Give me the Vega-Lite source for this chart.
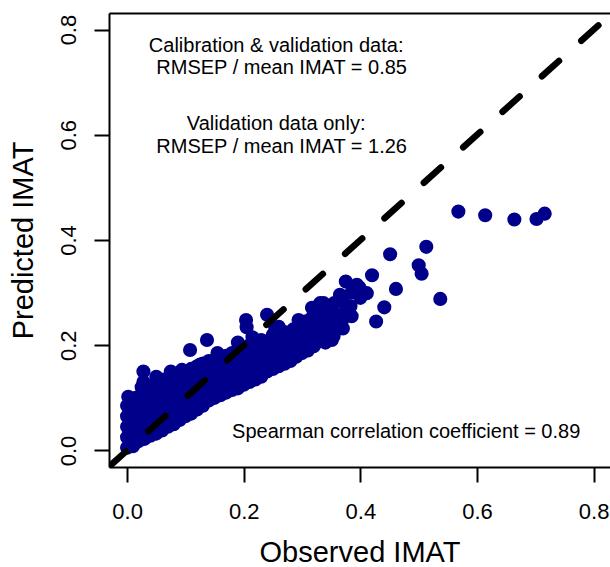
{
  "$schema": "https://vega.github.io/schema/vega-lite/v6.json",
  "width": 501,
  "height": 454,
  "autosize": {"type": "none"},
  "padding": {"left": 109, "top": 13, "right": 0, "bottom": 100},
  "config": {
    "view": {"stroke": null},
    "font": "Liberation Sans",
    "axis": {
      "grid": false,
      "domainColor": "black",
      "domainWidth": 2,
      "tickColor": "black",
      "tickWidth": 2,
      "tickSize": 15,
      "labelColor": "black",
      "labelFontSize": 22,
      "labelFont": "Liberation Sans",
      "titleColor": "black",
      "titleFont": "Liberation Sans",
      "titleFontSize": 29,
      "titleFontWeight": "normal",
      "labelFlush": false,
      "labelOverlap": false
    }
  },
  "datasets": {
    "pts": [
      {"obs":0,"pred":0.005},{"obs":0,"pred":0.025},{"obs":0,"pred":0.045},{"obs":0,"pred":0.065},{"obs":0,"pred":0.085},{"obs":0.002,"pred":0.102},
      {"obs":0.005,"pred":0.012},{"obs":0.005,"pred":0.035},{"obs":0.005,"pred":0.055},{"obs":0.005,"pred":0.075},{"obs":0.005,"pred":0.092},
      {"obs":0.01,"pred":0.008},{"obs":0.01,"pred":0.03},{"obs":0.01,"pred":0.05},{"obs":0.01,"pred":0.07},{"obs":0.01,"pred":0.09},
      {"obs":0.015,"pred":0.015},{"obs":0.015,"pred":0.04},{"obs":0.015,"pred":0.062},{"obs":0.015,"pred":0.085},{"obs":0.015,"pred":0.1},
      {"obs":0.02,"pred":0.018},{"obs":0.02,"pred":0.045},{"obs":0.02,"pred":0.07},{"obs":0.02,"pred":0.095},
      {"obs":0.028,"pred":0.15},{"obs":0.028,"pred":0.13},
      {"obs":0.03,"pred":0.022},{"obs":0.03,"pred":0.05},{"obs":0.03,"pred":0.08},{"obs":0.03,"pred":0.11},
      {"obs":0.04,"pred":0.028},{"obs":0.04,"pred":0.055},{"obs":0.04,"pred":0.085},{"obs":0.04,"pred":0.115},
      {"obs":0.05,"pred":0.032},{"obs":0.05,"pred":0.06},{"obs":0.05,"pred":0.09},{"obs":0.05,"pred":0.12},
      {"obs":0.06,"pred":0.038},{"obs":0.06,"pred":0.07},{"obs":0.06,"pred":0.1},{"obs":0.06,"pred":0.125},
      {"obs":0.07,"pred":0.045},{"obs":0.07,"pred":0.075},{"obs":0.07,"pred":0.105},{"obs":0.07,"pred":0.13},
      {"obs":0.08,"pred":0.05},{"obs":0.08,"pred":0.08},{"obs":0.08,"pred":0.11},{"obs":0.08,"pred":0.135},
      {"obs":0.09,"pred":0.058},{"obs":0.09,"pred":0.09},{"obs":0.09,"pred":0.12},{"obs":0.09,"pred":0.145},
      {"obs":0.094,"pred":0.153},
      {"obs":0.1,"pred":0.065},{"obs":0.1,"pred":0.095},{"obs":0.1,"pred":0.125},{"obs":0.1,"pred":0.15},
      {"obs":0.108,"pred":0.191},
      {"obs":0.11,"pred":0.07},{"obs":0.11,"pred":0.1},{"obs":0.11,"pred":0.13},{"obs":0.11,"pred":0.155},
      {"obs":0.12,"pred":0.078},{"obs":0.12,"pred":0.105},{"obs":0.12,"pred":0.135},{"obs":0.12,"pred":0.16},
      {"obs":0.125,"pred":0.163},
      {"obs":0.13,"pred":0.085},{"obs":0.13,"pred":0.115},{"obs":0.13,"pred":0.14},{"obs":0.13,"pred":0.165},
      {"obs":0.137,"pred":0.21},
      {"obs":0.14,"pred":0.095},{"obs":0.14,"pred":0.12},{"obs":0.14,"pred":0.145},{"obs":0.14,"pred":0.17},
      {"obs":0.15,"pred":0.1},{"obs":0.15,"pred":0.125},{"obs":0.15,"pred":0.15},{"obs":0.15,"pred":0.172},
      {"obs":0.16,"pred":0.105},{"obs":0.16,"pred":0.13},{"obs":0.16,"pred":0.155},{"obs":0.16,"pred":0.175},
      {"obs":0.17,"pred":0.11},{"obs":0.17,"pred":0.135},{"obs":0.17,"pred":0.16},{"obs":0.17,"pred":0.18},
      {"obs":0.177,"pred":0.179},
      {"obs":0.18,"pred":0.115},{"obs":0.18,"pred":0.14},{"obs":0.18,"pred":0.165},{"obs":0.18,"pred":0.185},
      {"obs":0.19,"pred":0.118},{"obs":0.19,"pred":0.145},{"obs":0.19,"pred":0.17},{"obs":0.19,"pred":0.19},
      {"obs":0.2,"pred":0.125},{"obs":0.2,"pred":0.15},{"obs":0.2,"pred":0.175},{"obs":0.2,"pred":0.195},
      {"obs":0.204,"pred":0.248},{"obs":0.205,"pred":0.234},
      {"obs":0.21,"pred":0.13},{"obs":0.21,"pred":0.155},{"obs":0.21,"pred":0.18},{"obs":0.21,"pred":0.2},
      {"obs":0.22,"pred":0.135},{"obs":0.22,"pred":0.16},{"obs":0.22,"pred":0.185},{"obs":0.22,"pred":0.205},
      {"obs":0.23,"pred":0.14},{"obs":0.23,"pred":0.165},{"obs":0.23,"pred":0.19},{"obs":0.23,"pred":0.21},
      {"obs":0.24,"pred":0.15},{"obs":0.24,"pred":0.172},{"obs":0.24,"pred":0.195},{"obs":0.24,"pred":0.258},
      {"obs":0.25,"pred":0.155},{"obs":0.25,"pred":0.2},{"obs":0.25,"pred":0.22},
      {"obs":0.254,"pred":0.233},
      {"obs":0.26,"pred":0.16},{"obs":0.26,"pred":0.182},{"obs":0.26,"pred":0.205},
      {"obs":0.27,"pred":0.165},{"obs":0.27,"pred":0.19},{"obs":0.27,"pred":0.21},{"obs":0.27,"pred":0.225},
      {"obs":0.274,"pred":0.172},
      {"obs":0.28,"pred":0.17},{"obs":0.28,"pred":0.195},{"obs":0.28,"pred":0.215},
      {"obs":0.29,"pred":0.178},{"obs":0.29,"pred":0.2},{"obs":0.29,"pred":0.225},{"obs":0.294,"pred":0.248},
      {"obs":0.3,"pred":0.185},{"obs":0.3,"pred":0.205},{"obs":0.3,"pred":0.23},
      {"obs":0.31,"pred":0.19},{"obs":0.31,"pred":0.215},{"obs":0.31,"pred":0.24},{"obs":0.317,"pred":0.271},
      {"obs":0.32,"pred":0.198},{"obs":0.32,"pred":0.22},{"obs":0.32,"pred":0.245},{"obs":0.32,"pred":0.258},
      {"obs":0.331,"pred":0.28},{"obs":0.337,"pred":0.28},
      {"obs":0.34,"pred":0.205},{"obs":0.34,"pred":0.23},{"obs":0.34,"pred":0.25},
      {"obs":0.351,"pred":0.21},{"obs":0.351,"pred":0.267},{"obs":0.354,"pred":0.217},
      {"obs":0.36,"pred":0.24},{"obs":0.365,"pred":0.296},{"obs":0.368,"pred":0.245},
      {"obs":0.375,"pred":0.321},{"obs":0.383,"pred":0.274},{"obs":0.394,"pred":0.315},{"obs":0.398,"pred":0.31},
      {"obs":0.411,"pred":0.299},{"obs":0.42,"pred":0.333},{"obs":0.427,"pred":0.245},{"obs":0.441,"pred":0.272},
      {"obs":0.451,"pred":0.373},{"obs":0.461,"pred":0.307},{"obs":0.5,"pred":0.352},{"obs":0.505,"pred":0.336},
      {"obs":0.513,"pred":0.387},{"obs":0.537,"pred":0.288},
      {"obs":0.568,"pred":0.454},{"obs":0.614,"pred":0.447},{"obs":0.664,"pred":0.439},{"obs":0.702,"pred":0.44},{"obs":0.716,"pred":0.45},
      {"obs":0.025,"pred":0.03},{"obs":0.025,"pred":0.06},{"obs":0.025,"pred":0.09},{"obs":0.025,"pred":0.12},
      {"obs":0.035,"pred":0.035},{"obs":0.035,"pred":0.065},{"obs":0.035,"pred":0.095},
      {"obs":0.045,"pred":0.04},{"obs":0.045,"pred":0.07},{"obs":0.045,"pred":0.1},{"obs":0.045,"pred":0.125},
      {"obs":0.055,"pred":0.045},{"obs":0.055,"pred":0.08},{"obs":0.055,"pred":0.11},
      {"obs":0.065,"pred":0.05},{"obs":0.065,"pred":0.085},{"obs":0.065,"pred":0.115},{"obs":0.065,"pred":0.135},
      {"obs":0.075,"pred":0.06},{"obs":0.075,"pred":0.09},{"obs":0.075,"pred":0.12},
      {"obs":0.085,"pred":0.065},{"obs":0.085,"pred":0.095},{"obs":0.085,"pred":0.125},{"obs":0.085,"pred":0.14},
      {"obs":0.095,"pred":0.075},{"obs":0.095,"pred":0.105},{"obs":0.095,"pred":0.135},
      {"obs":0.105,"pred":0.08},{"obs":0.105,"pred":0.11},{"obs":0.105,"pred":0.14},
      {"obs":0.115,"pred":0.085},{"obs":0.115,"pred":0.115},{"obs":0.115,"pred":0.145},
      {"obs":0.125,"pred":0.09},{"obs":0.125,"pred":0.12},{"obs":0.125,"pred":0.15},
      {"obs":0.135,"pred":0.1},{"obs":0.135,"pred":0.13},{"obs":0.135,"pred":0.155},
      {"obs":0.145,"pred":0.105},{"obs":0.145,"pred":0.135},{"obs":0.145,"pred":0.16},
      {"obs":0.155,"pred":0.112},{"obs":0.155,"pred":0.14},{"obs":0.155,"pred":0.165},
      {"obs":0.165,"pred":0.118},{"obs":0.165,"pred":0.145},{"obs":0.165,"pred":0.17},
      {"obs":0.175,"pred":0.122},{"obs":0.175,"pred":0.15},{"obs":0.175,"pred":0.172},
      {"obs":0.185,"pred":0.128},{"obs":0.185,"pred":0.155},{"obs":0.185,"pred":0.178},
      {"obs":0.195,"pred":0.132},{"obs":0.195,"pred":0.16},{"obs":0.195,"pred":0.185},
      {"obs":0.205,"pred":0.138},{"obs":0.205,"pred":0.165},{"obs":0.205,"pred":0.19},
      {"obs":0.215,"pred":0.142},{"obs":0.215,"pred":0.17},{"obs":0.215,"pred":0.195},
      {"obs":0.225,"pred":0.148},{"obs":0.225,"pred":0.175},{"obs":0.225,"pred":0.2},
      {"obs":0.235,"pred":0.152},{"obs":0.235,"pred":0.18},{"obs":0.235,"pred":0.205},
      {"obs":0.245,"pred":0.16},{"obs":0.245,"pred":0.185},{"obs":0.245,"pred":0.21},
      {"obs":0.255,"pred":0.165},{"obs":0.255,"pred":0.19},{"obs":0.255,"pred":0.212},
      {"obs":0.265,"pred":0.17},{"obs":0.265,"pred":0.195},{"obs":0.265,"pred":0.218},
      {"obs":0.275,"pred":0.178},{"obs":0.275,"pred":0.2},{"obs":0.275,"pred":0.222},
      {"obs":0.285,"pred":0.182},{"obs":0.285,"pred":0.205},{"obs":0.285,"pred":0.23},
      {"obs":0.295,"pred":0.19},{"obs":0.295,"pred":0.212},{"obs":0.295,"pred":0.238},
      {"obs":0.305,"pred":0.195},{"obs":0.305,"pred":0.22},{"obs":0.305,"pred":0.245},
      {"obs":0.315,"pred":0.2},{"obs":0.315,"pred":0.228},{"obs":0.315,"pred":0.25},
      {"obs":0.325,"pred":0.205},{"obs":0.325,"pred":0.235},{"obs":0.325,"pred":0.26},
      {"obs":0.335,"pred":0.21},{"obs":0.335,"pred":0.24},{"obs":0.335,"pred":0.265},
      {"obs":0.345,"pred":0.215},{"obs":0.345,"pred":0.245},
      {"obs":0.355,"pred":0.225},{"obs":0.355,"pred":0.255},{"obs":0.355,"pred":0.28},
      {"obs":0.37,"pred":0.232},{"obs":0.37,"pred":0.26},{"obs":0.37,"pred":0.285},
      {"obs":0.385,"pred":0.3},{"obs":0.385,"pred":0.255},{"obs":0.4,"pred":0.29},
      {"obs":0.05,"pred":0.14},{"obs":0.075,"pred":0.15},{"obs":0.155,"pred":0.185},{"obs":0.19,"pred":0.205},
      {"obs":0.215,"pred":0.215},{"obs":0.26,"pred":0.235}
    ],
    "diag": [{"obs": -0.031, "pred": -0.031}, {"obs": 0.9, "pred": 0.9}],
    "notes": [
      {"obs": 0.2556, "pred": 0.7576, "label": "Calibration & validation data:"},
      {"obs": 0.265, "pred": 0.7158, "label": "RMSEP / mean IMAT = 0.85"},
      {"obs": 0.2556, "pred": 0.6094, "label": "Validation data only:"},
      {"obs": 0.265, "pred": 0.5657, "label": "RMSEP / mean IMAT = 1.26"},
      {"obs": 0.4786, "pred": 0.0241, "label": "Spearman correlation coefficient = 0.89"}
    ]
  },
  "layer": [
    {
      "data": {"name": "pts"},
      "mark": {"type": "circle", "size": 200, "opacity": 1, "color": "#00008B"},
      "encoding": {
        "x": {
          "field": "obs", "type": "quantitative",
          "scale": {"domain": [-0.031, 0.828], "nice": false, "zero": false},
          "axis": {"values": [0, 0.2, 0.4, 0.6, 0.8], "format": ".1f", "labelPadding": 19, "title": "Observed IMAT", "titlePadding": 16}
        },
        "y": {
          "field": "pred", "type": "quantitative",
          "scale": {"domain": [-0.0315, 0.8315], "nice": false, "zero": false},
          "axis": {"values": [0, 0.2, 0.4, 0.6, 0.8], "format": ".1f", "labelAngle": -90, "labelAlign": "center", "labelBaseline": "bottom", "labelPadding": 14, "title": "Predicted IMAT", "titlePadding": 19}
        }
      }
    },
    {
      "data": {"name": "diag"},
      "mark": {"type": "line", "clip": true, "color": "black", "strokeWidth": 6.5, "strokeDash": [23, 30], "strokeCap": "round"},
      "encoding": {
        "x": {"field": "obs", "type": "quantitative", "axis": {"orient": "top", "labels": false, "ticks": false, "domain": true, "title": null}},
        "y": {"field": "pred", "type": "quantitative", "axis": null}
      }
    },
    {
      "data": {"name": "notes"},
      "mark": {"type": "text", "fontSize": 20, "font": "Liberation Sans", "align": "center", "baseline": "alphabetic", "color": "black"},
      "encoding": {
        "x": {"field": "obs", "type": "quantitative", "axis": null},
        "y": {"field": "pred", "type": "quantitative", "axis": null},
        "text": {"field": "label"}
      }
    }
  ],
  "resolve": {"axis": {"x": "independent", "y": "independent"}}
}
